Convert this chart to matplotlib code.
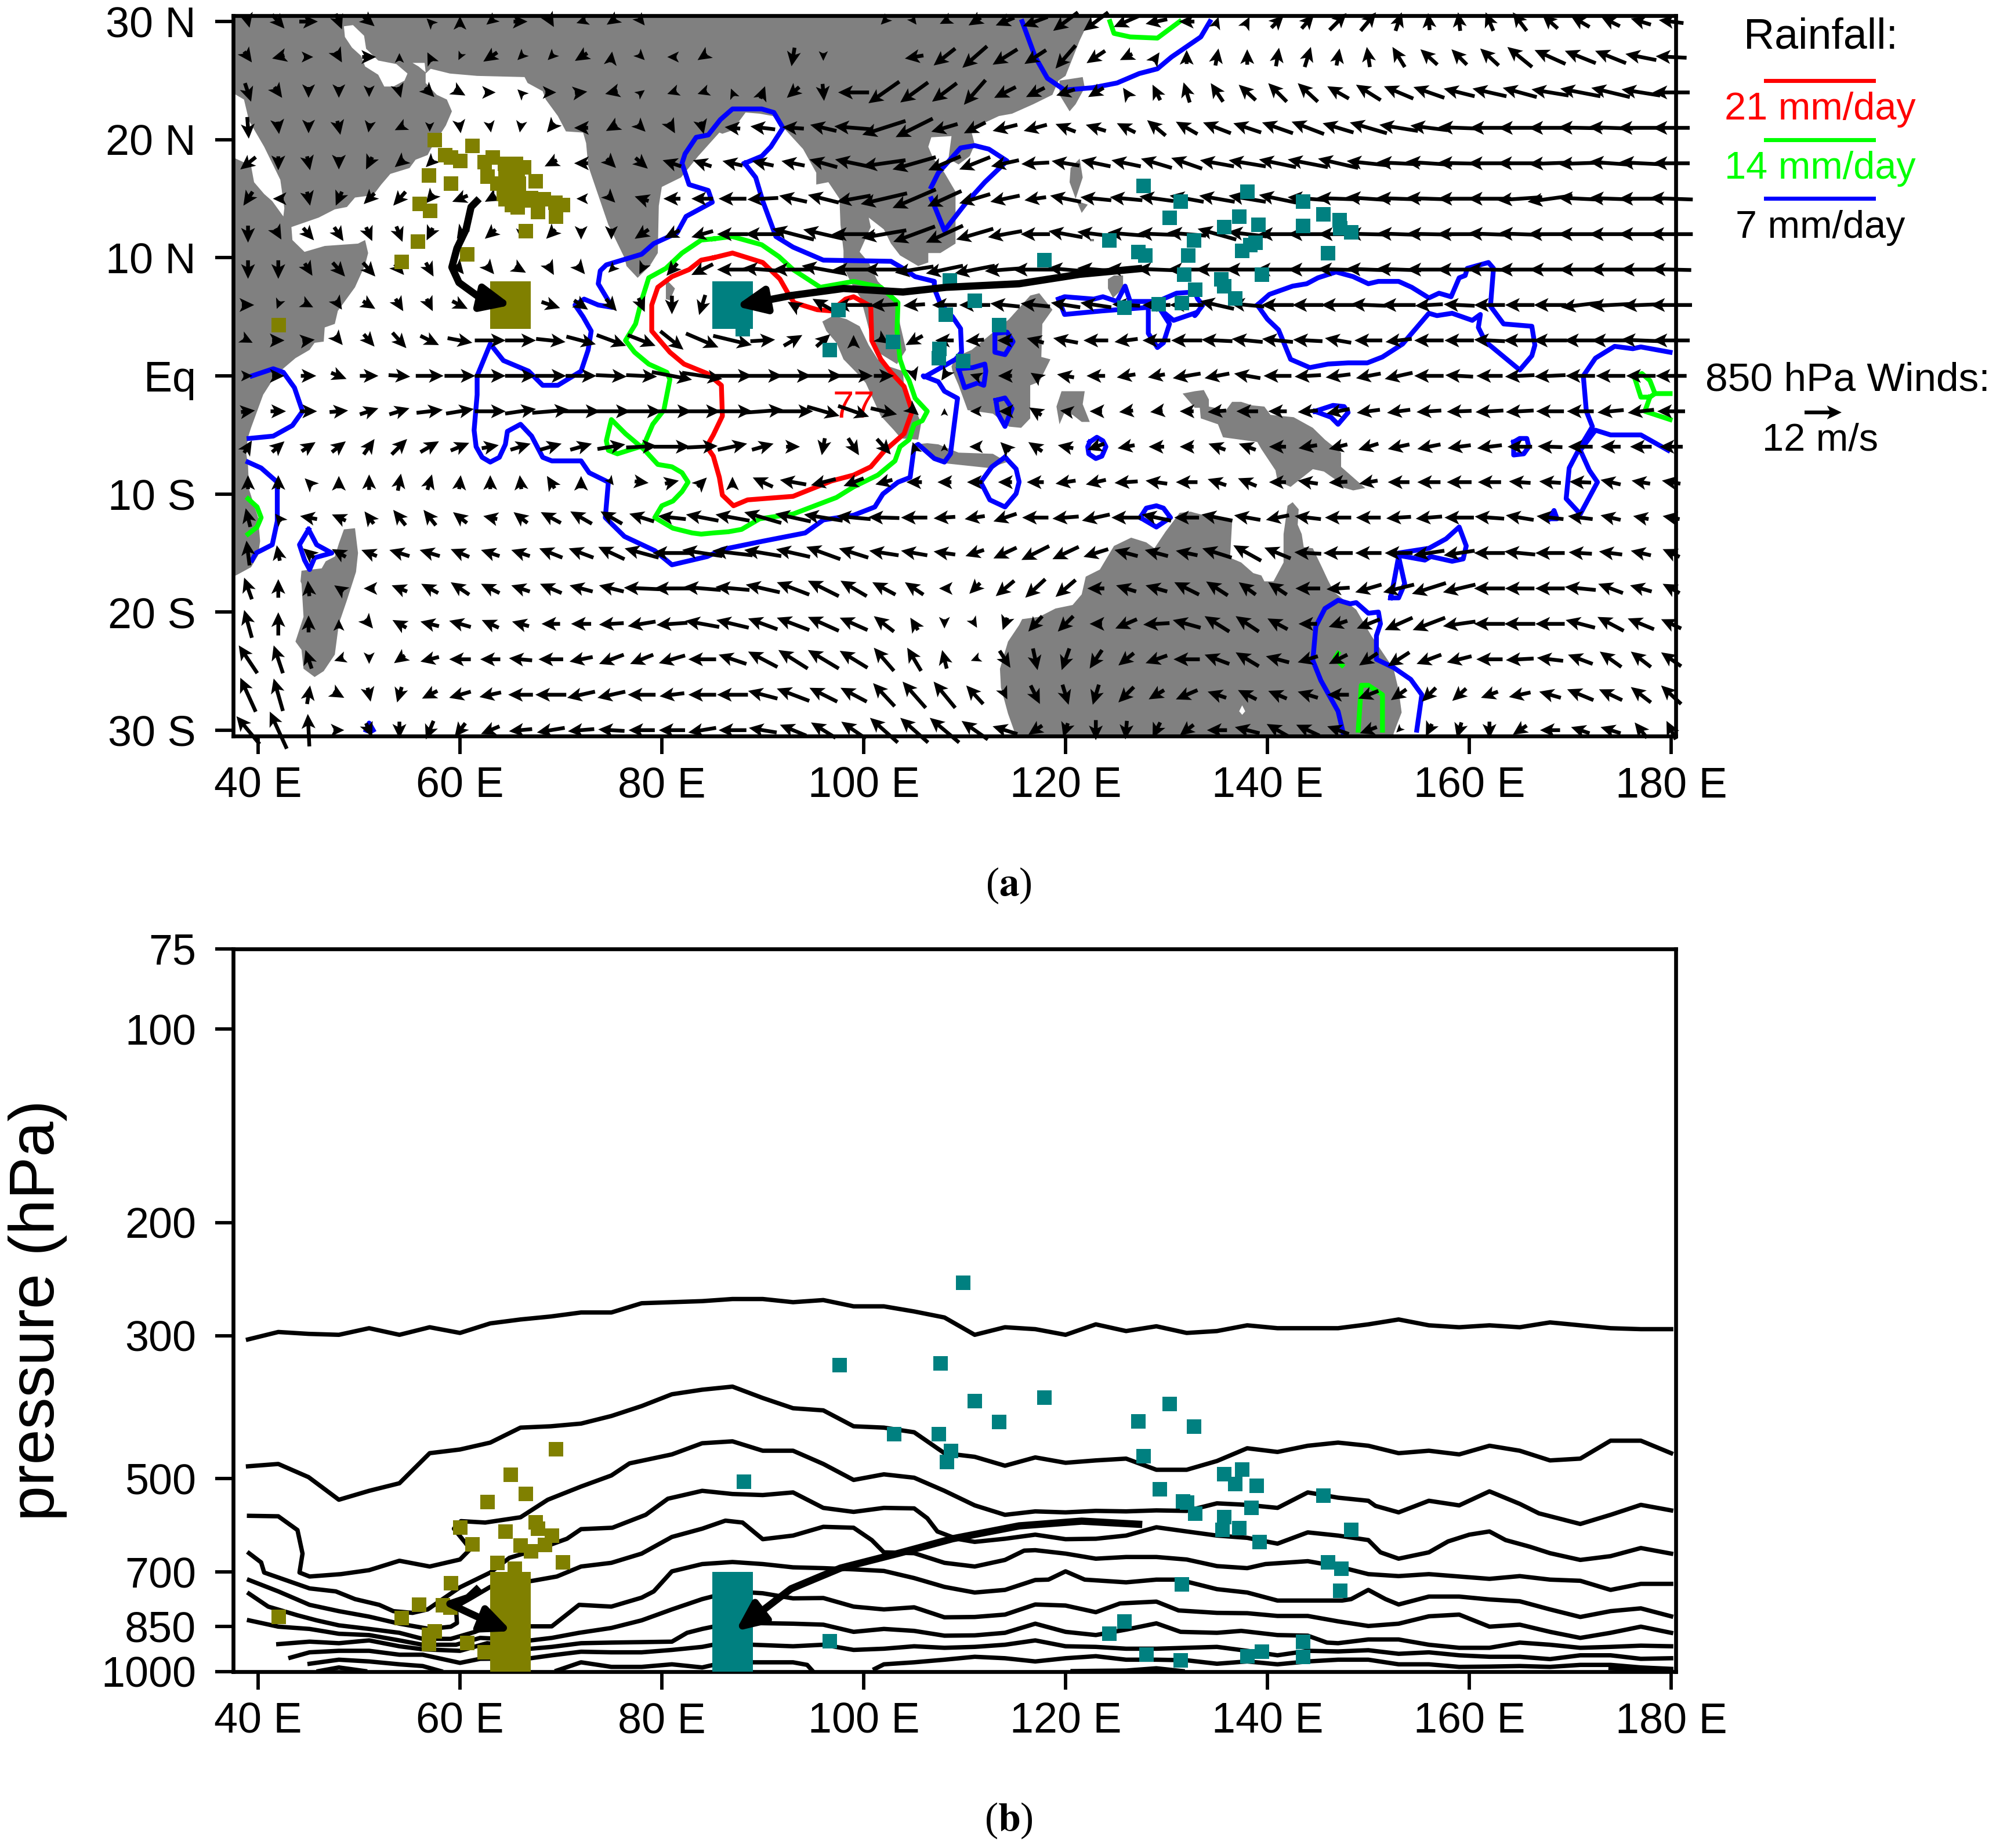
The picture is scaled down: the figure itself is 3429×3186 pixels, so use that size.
import numpy as np
import matplotlib
matplotlib.use("Agg")
import matplotlib.pyplot as plt
from matplotlib.lines import Line2D

plt.rcParams["font.family"] = ["Liberation Sans", "DejaVu Sans"]
plt.rcParams["mathtext.fontset"] = "stix"

# wind grid, m/s
grid_lon = np.arange(39, 181, 3)
grid_lat = np.arange(30, -31, -3)

u_wind = [
[1,4,6,2,3.5,0,-2,0,-2.5,4.5,2,-3,-3,2,0,0, 0,0,0,0,0,-2,1.5,-3,-4,-6,-8,-8,-8,-8,-7,-5, 1,1.5,4,4,5.5,5,2,-.5,-.7,-2.5,-4.5,-5,-6,-6,-6.5,-8],
[2.5,-4,3,2,4.5,0,-1.5,-1,-4.5,-2,-2,-4,.5,2,-3,-3, 0,0,-1,0,0,0,-6,-7,-8,-8,-7,-6.5,-6,-4,2,0, 1,0,1,2,1,-1,-4,-5.5,-5,-6,-8,-10,-10,-10,-10,-10],
[2,2.5,0,0,0,1,3,3.5,3.5,-2,3.5,4,-4,2,-3,-3, -1,1.5,-4,.5,-10,-10,-9,-8,-7,-7,-6,-6,-5,-2,-2.5,-2, -4,-5.5,-6,-6.5,-7,-8,-9.5,-10,-10,-11,-11,-12,-13,-12.5,-12.5,-12],
[.5,.5,0,1,-.5,-3,0,.5,.5,-.5,-2.5,-4.5,-3.5,2.5,2,1, -5,-8,-7,-8.5,-12.5,-14,-12,-8.5,-7,-8,-7.5,-6.5,-6.5,-6,-6,-7, -9,-9,-10,-10.5,-10,-12,-12.5,-12,-13.5,-13,-14,-14,-14.5,-14.5,-15,-12],
[-5,0,1,0,-2,-3,-2.5,0,0,0,-4,-4.5,3,4,-6,-6, -6.5,-7,-7.5,-9,-12,-14,-14,-10.5,-10,-9,-9,-9,-9.5,-9.5,-10,-10, -11,-12,-12,-13,-13,-14,-14,-15,-14,-14,-14.5,-14,-14.5,-14,-14,-12],
[-3,-3.5,1,-2,-3.5,-4,-2.5,-5,-3.5,0,0,-3,2.5,-4.5,-5.5,-7, -9,-10,-9,-10,-11,-15,-14,-11,-10,-9.5,-7,-10,-10,-10.5,-11,-11, -11.5,-12,-12,-13,-14,-14.5,-14.5,-15,-14,-14,-14.5,-14.5,-14.5,-14,-14.5,-14],
[0,2,3.5,3,2,2,-2,-2,-3.5,0,-3,0,0,-4.5,-5,-7, -10,-11.5,-13.5,-13,-14,-14.5,-13.5,-12,-12,-11,-9.5,-11,-12,-12,-12,-12.5, -12.5,-12.5,-12.5,-13,-13,-14,-14,-14.5,-14.5,-14,-14,-14.5,-14.5,-14,-14.5,-14],
[0,0,2.5,4,4,3,2.5,2.5,2.5,3.5,2,2.5,-2,-1.5,-3.5,-7, -10,-13,-13,-14,-13.5,-13,-12.5,-12,-13,-13,-14.5,-11.5,-12,-12.5,-13,-12.5, -14,-14,-14,-13,-13.5,-14.5,-14.5,-14.5,-14.5,-14.5,-14,-13.5,-14,-13.5,-13.5,-13],
[4,-1,3,2,4,2.5,2,5,4,0,6,4.5,3.5,2,0,-2, 0,-5,-3.5,-7,-12,-9,-7,-8,-10,-9.5,-9.5,-9.5,-10,-9,-9,-11, -11,-11,-10.5,-10,-11,-11.5,-11,-9,-10,-10,-9.5,-10.5,-12.5,-13.5,-12,-13.5],
[3,4,4,2.5,3.5,4.5,6,8,10,10,9.5,9.5,9.5,9,7.5,10.5, 12.5,8,6,4.5,0,3,-5.5,-6,-6,-5,-5.5,-8,-8,-7.5,-9,-10, -10,-10,-10,-9.5,-8.5,-9,-8.5,-9.5,-9.5,-10,-10.5,-11,-10.5,-12.5,-13,-12],
[3,4,5,5,6,7,9,10,10,10,10,10,10,10,13,13, 13,13,12,12.5,12.5,6.5,1,-2,-3,-4.5,-3,-5.5,-6,-6,-5.5,-9, -8,-8.5,-9,-8.5,-8,-8,-9,-9.5,-9,-8.5,-9.5,-10,-9.5,-9.5,-9.5,-10],
[4.5,5,5.5,6,6,6.5,8.5,9,10,10,12,12.5,12.5,13,13,12, 13,13.5,13,10.5,10,8.5,3,0,-3,-4,-4,-3.5,-4,-4.5,-4,-4.5, -6,-7,-6,-6.5,-7.5,-7.5,-7.5,-8,-8,-9,-9,-9,-8.7,-8.5,-8.5,-9],
[2.5,4,4.5,4.5,3.5,5,6,6,5.5,6.5,7,7,9,10,12,10, 9.5,7,4.5,-1,3.5,4.5,-1,0,-3.5,-3,-4.5,-5,-5.5,-5.5,-5,-4.5, -5.5,-5.5,-5.5,-6,-6,-6.5,-7,-7.5,-7.5,-8,-8,-8,-8,-6.5,-7,-7.5],
[0,0,-2.5,0,0,1,1.5,.5,0,-.5,-2.5,0,1.5,4.5,4.5,3, 0,-6.5,-8.5,-8,-6.5,-5.5,-5,-4.5,-5,-4.5,-5.5,-6.5,-6.5,-7.5,-7,-7, -6,-6,-5.5,-6.5,-6,-6,-7,-7.5,-8,-7.5,-7,-7,-7,-6.5,-6,-6],
[-1.5,-2,-5.5,-4.5,-3,-4,-4,-4.5,-4.5,-4.5,-6.5,-7,-7,-8,-9,-10.5, -11,-12,-11.5,-12.5,-11,-10,-8.5,-7,-6.5,-7.5,-8.5,-8.5,-9,-9.5,-9.5,-8, -10,-8.5,-7.5,-8.5,-8.5,-8,-8,-8.5,-9.5,-9.5,-9,-8.7,-8,-6.5,-5,-5.5],
[-1,-1,-3.5,-4.5,-5,-6.5,-6.5,-6,-6,-6,-7.5,-8,-8.5,-11,-12.5,-13, -13,-12,-11,-11,-9.5,-9.5,-8.5,-7,-6,-7.5,-9,-8.5,-8,-7.5,-7.5,-7, -9.5,-9,-8.5,-8.7,-9.5,-8.5,-9,-10,-10,-10,-10,-9.5,-7.5,-7.5,-6.5,-5.5],
[-2.5,0,-.5,-3,-3.5,-5,-5.5,-6,-6,-6,-7,-7.5,-8,-11.5,-11.5,-12, -11,-11,-10.5,-10,-8.5,-7.5,-6,-3.5,-3.5,-6,-6.5,-6.5,-5.5,-6.5,-7,-8, -7,-5.5,-6,-8,-7.5,-8.5,-10,-11,-10.5,-10,-9.5,-9.5,-10,-8,-7,-5.5],
[-2.5,0,0,0,2.5,-4.5,-6,-7,-5.5,-5.5,-6,-6.5,-8,-9,-10,-11, -10.5,-9.5,-10.5,-10,-9,-6.5,-2.5,0,1.5,-1.5,-4.5,-5,-4,-7,-8.5,-9, -8,-7.5,-6.5,-6,-6,-7.5,-9,-10.5,-10.5,-10,-10,-9.5,-9.5,-8.5,-8.5,-6.5],
[-6,-3,-2,-3,0,-3.5,-6,-7,-6.5,-7.5,-8,-7.5,-8,-7.5,-8.5,-9, -9,-9.5,-9.5,-10,-9,-6.5,-4.5,-1.5,-2.5,3.5,1.5,-2.5,-4,-5,-7,-8.5, -8,-7.5,-7.5,-6.5,-6,-6,-7,-8,-8,-8.5,-9,-8.5,-8,-7,-6.5,-6.5],
[-5,-3,1,3.5,1,-1.5,-5,-7,-7,-8,-10,-9,-9,-9,-8,-9, -10,-9.5,-10.5,-9,-8.5,-7,-7.5,-7,-5.5,1.5,3,2,-2,-5,-5,-7, -6,-6,-6,-6.5,-7,-6.5,-5,-4.5,-4.5,-5.5,-7,-7,-8.5,-7.5,-6.5,-6.5],
[-7.5,-5.5,-.5,3.5,2,0,-2.5,-3.5,-6,-7.5,-9,-8.5,-8.5,-8.5,-8.5,-9, -9,-9,-8.5,-8,-8,-9,-9,-9.5,-8.5,-8,-4.5,-1.5,0,-.5,-2.5,-4.5, -6.5,-8,-7,-7.5,-7,-5.5,-1.5,-2,-1.5,0,-4.5,-6.5,-6,-6.5,-4,-3],
]
v_wind = [
[-4,-4.5,0,-5,-3,0,2,3.5,-2,0,-3.5,-1,-2,-2.5,0,0, 0,0,0,0,0,-2,-2,-1.5,-2.5,-2.5,-3,-6,-6,-3.5,-1.5,0, 3,3,4,4.5,5.5,6,6,5.5,6,6,6,4.5,3.5,3,2,1],
[-3.5,-1,0,-3.5,0,2.5,3,-2,-3,-2,-2,-2.5,3.5,-2,0,-2, 0,0,-6,-2.5,0,0,-1,-5.5,-7,-5,-4.5,-7.5,-4,-2,3,4.5, 5.5,5,6,6.5,5.5,6.5,6.5,5,5,5.5,6.5,4.5,4,4,2,.5],
[-6,-3.5,-3.5,-3.5,-3,-3.5,-3,-2,0,2,0,.5,-1,1.5,-1,-1, 2.5,4,-3.5,-5.5,0,-7,-6.5,-6,-8,-3.5,-3,-2,-3,3,5,6.5, 6,5,6,6,4,5,4,3.5,2.5,2.5,3,2,2.5,3,2,0],
[-7,-4,-3.5,-4.5,-3,-1.5,-2.5,-3.5,-3,-3,-3,0,-2,-2.5,-3.5,-4, .5,1,.5,2,1,-4.5,-6,-2.5,-3.5,-2,-2,2.5,2,3,5,4, 3.5,3,3.5,4,3,3.5,2,1.5,.5,0,0,0,.3,.5,0,0],
[-4,-4.5,-4.5,-4,-4,-2.5,-2.5,0,0,0,-2,0,-3,-3.5,2,2, 1.5,1.5,1.5,2.5,2.5,-2,-4,-4.5,-4,-2,-.5,1.5,2,2,3,3.5, 2,2,2.5,2.5,3,1.5,.7,1,.3,0,0,-.5,-.5,1,.7,0],
[-4.5,0,-4.5,-4.5,-3.5,-4.5,-3,-2,-2,0,0,0,-2.5,1.5,0,0, 0,-.5,2,2.5,-2,-3.5,-6,-5,-3,-2,-1,2,1,1,1.5,2, 2,2,2.5,1,.5,1,.5,.5,0,0,-1,-2,.7,.5,0,.5],
[-5.5,-3.5,-4,-4.5,-4.5,-5,-4,-3,-3,-2.5,-3,-3.5,-3.5,-3,-2.5,-2, 0,0,3.5,3,0,-2.5,-5,-5.5,-3.5,-2,0,2,1.5,1,.5,1, 3.5,1.5,0,0,0,.3,.5,.3,0,.5,.5,0,0,0,0,0],
[-6,-6,-4,-4.5,-4.5,-3.5,-4.5,-3,-3,-2,-3.5,-3,-2,-3,-4,-3.5, 0,1,0,2.5,0,0,-2,-2.5,-2.5,-1,0,1,1,.5,.5,0, 0,0,0,0,.3,.5,.5,0,0,.3,0,0,0,0,0,.3],
[0,-2.5,-1.5,-3,-2.5,-4,-4,-2.5,-1,0,-2,-3,-4,-4.5,-6,-6.5, 0,0,2,4,0,-.5,-.5,0,0,1,1,1.5,1.5,.5,0,0, 2.5,1,0,0,0,.5,0,-.5,.5,0,0,0,-1.5,-.7,-.5,0],
[-1.5,0,.5,-3,-4,-5,-3,-1.5,0,0,-1,-2.5,-3.5,-3.5,-6,-4.5, -3,.5,3.5,4,3.5,-2,-3,0,-.5,0,1.5,1.5,0,-1,0,0, .5,1,1,.5,1.5,0,-1,0,0,.5,0,0,0,0,.5,0],
[0,0,0,-2,0,-.5,0,0,0,0,0,0,-.5,-.5,-2.5,-2, 0,0,0,0,0,0,-3.5,-3,1,0,2,1,0,-1,-1,-1.5, -1.5,1.5,0,-.5,-1,-1.5,-2,0,.5,0,-.5,-.5,0,0,0,0],
[.5,0,0,.5,2,2,1,1.5,0,1.5,1,0,0,0,0,0, 0,1,0,-3,-3.5,-2,-2.5,2,0,0,2.5,.5,0,-.5,-.5,0, -.5,0,0,-.5,-1.5,-1,-1,-.5,-.3,-.5,-.5,0,0,-.8,-1,0],
[4,3.5,3,3.5,5,5,3.5,2.5,1,2,2,2,1.5,.5,0,.5, 2,2,0,-5.5,-5.5,-5,3,2,0,3,3,1,-2,-1,0,0, 2,2,0,-1,-1.5,-2,-1.5,-1.5,-1,-1,0,.3,0,0,0,0],
[4.5,4.5,2.5,4,5,5.5,5,4.5,4.5,4.5,4,4,-2,-.5,1,3, 3.5,3,1.5,-2,-2.5,-1.5,0,0,0,0,0,-1,-1.5,-.5,1,0, 2,2.5,0,1,-.3,-1,0,0,0,0,.5,.5,.3,1.5,1,1],
[6,2.5,1,2,4,5,5,3.5,1,3.5,3.5,4,4,2.5,1,2, 2,3.5,2.5,2,1,.3,0,-.5,-1,-2.5,0,-.7,-2,0,2,0, 2,1.5,-1.5,1,0,0,-.5,-.7,0,.7,1.5,1,1,1.5,1,1],
[8,5,3,2.5,2,2,2,2.5,2,2,3,3,4,3,0,2, 1.5,2,2.5,4,3,1.5,1.5,1,-2,-3.5,-4.5,-4,-2.5,2,2,1.5, 3,5,3.5,.5,0,0,0,-1.5,-1.5,0,1,0,.5,1,1.5,2.5],
[7,6,5,2,0,2,3,4,3,2,3,2,2,.5,0,1, 1,2.5,4,5,5,4,4,0,-3.5,-5,-6,-5.5,0,2,2,4, 4.5,4,4,0,-.5,-2.5,-2.5,-3.5,-2.5,0,0,0,1,3,2,3],
[9,7.5,5.5,3,-3,2.5,1.5,2,2.5,1.5,0,0,-.5,-1.5,-.7,2, 2.5,3.5,4,4.5,4,5,4,-3,-2.5,-4,-5,-5,0,-3,-.5,2.5, 5,5,3.5,0,-2,-3,-4,-4,-1.5,0,0,0,2.5,4.5,3.5,3],
[9,9,6,-1,-3,-2.5,-1.5,0,0,.7,0,-1.5,-3,-3,-2.5,0, 3,5,6,6,5.5,7.5,7.5,6,-1,-5.5,-7,-7,-6,-4,-2.5,0, 3,4.5,2,-2,-3,-4,-4.5,-3,-2,0,-.5,1,3,5,5,4.5],
[11,10.5,6,-2,-4.5,-5,-2.5,-2,-1.5,0,0,-2,-2,0,-1,0, 0,2.5,4,4.5,4.5,7.5,8.5,8.5,6,-3,-6,-6.5,-6.5,-5,-3,-3, 2,3,2.5,2,0,-2.5,-3.5,-4.5,-4,-2,-1.5,2,3.5,3.5,5,6],
[9,12,10.5,0,-4.5,-5.5,-6,-4.5,-2.5,-.7,-1.5,-.7,.5,0,0,-1.5, 0,1.5,3.5,5,5.5,8,8,8,6,2.5,-3,-4.5,-6.5,-6,-5,-3.5, 0,2,4,3.5,2.5,-2,-1.5,-4,-5,-5.5,-3,0,2,2,5,6],
]

# land outlines, lon/lat
land_main_lon = [37,37.8,39.3,40,40.2,40,39.1,39,38.8,39,39.3,40.5,41.7,42.6,43.7,45.1,45.6,46.5,46.6,47.6,47.9,49.6,50.6,50.9,50.6,49.9,46.6,44.6,43.4,43.3,46,47.6,48.8,49.6,51.4,52.2,53.1,55,55.6,56.8,57.1,58.6,59.2,58.7,57.7,56.6,56.6,57.1,59,61.7,66.4,66.7,68.2,68.5,69.7,70.5,72.2,72.5,72.7,73.3,74.7,76.3,76.5,77.6,78.8,79.6,79.7,80,81.9,83.6,85.7,86,87,88.3,89.7,91,92.5,94,95.3,95.3,96.5,97.6,97.7,98,98,98.8,99.7,100.2,100.8,101.4,103.3,104.2,103.6,103.3,101.4,100.5,99.6,100.7,100.5,102,102.7,103.6,105.4,106.4,106.4,107.6,109.1,109.1,109.1,108,106.9,106.4,106.7,108.7,108.4,109.4,110.5,111,110.7,111.9,113.4,114.7,116.8,118.7,119.3,120,121.4,122.4,122.6,37]
land_main_lat = [-17,-16.9,-16.2,-15.2,-14,-12,-9.6,-7.6,-6.4,-5.2,-4.4,-1.6,0,.7,1.5,2.2,2.8,2.9,4.1,4.4,5.5,7.5,9.4,10.4,11.5,11.2,11,10.5,11.5,12.6,13.4,14.1,14.3,15.1,15.3,16.2,17.1,17.6,18.3,18.7,19.2,21.2,22.4,23.4,23.8,24.8,25.6,26,25.6,25.4,25.3,24.8,24.1,23.4,22,20.7,20.6,19.7,17.8,16.3,12.8,10,9.3,8.3,9.3,10.4,14.4,16,16.8,18.6,20.6,20.5,20.8,22.3,22.2,22,20.6,19.2,17.2,16.2,16.4,15,12.8,10.6,9.2,7.8,6.6,5,3,2,1,2.2,4.4,6.4,8,9.6,10.5,12.6,13.4,12.4,11.2,10.2,9.3,9.6,10.4,10.4,11.2,13.6,15.6,17.2,18.4,19.4,20.2,20.3,18.4,17.9,18.6,19.6,20.6,21.4,22,22.2,23,23.8,25,25.4,28.4,30.2,31,31]
sri_lon = [80.4,81.3,80.8,80.4]
sri_lat = [8.2,7.4,6.4,6.5]
sumatra_lon = [95.9,97,98.3,99.6,100.5,101.4,102.5,103.9,104,104.8,105.7,105.4,103.7,103,101.7,100.2,99.6,98,97.3,96.3]
sumatra_lat = [4.6,5.1,4.8,4.2,2.6,1.4,.8,.4,-1,-2.2,-4,-5.4,-5.3,-4.6,-3.4,-.6,0,1.4,2.8,3.8]
borneo_lon = [116.5,117.4,118.7,117.7,117.6,118.5,117.4,116.5,116.5,115.6,114.4,112.8,110.3,109.4,108.8,108.7,109.1,110.7,112.7,114.4]
borneo_lat = [6.8,7,5.6,4.4,1.6,1.4,-.5,-.8,-3.6,-4.4,-4.3,-3.2,-2.9,-.8,.4,.8,1.6,2.2,3.6,4.8]
sulawesi_lon = [119.1,119.6,121.9,121.7,122.4,121.6,120.7,119.9,119.4]
sulawesi_lat = [-2.6,-1.3,-1.3,-2.4,-3.9,-3.9,-3.3,-3.1,-4.1]
taiwan_lon = [119.4,121.7,121.9,121,120.4,119.4]
taiwan_lat = [25,25.3,24.4,23,22.4,23.8]
luzon_lon = [120.5,121.4,121.7,121,120.4]
luzon_lat = [17.6,18.4,16.8,15,16.4]
mindoro_lon = [121.1,122.2,121.6]
mindoro_lat = [14.8,14.5,13.8]
mindanao_lon = [124.2,124.8,125.7,125.7,124.7,124.2]
mindanao_lat = [8.2,8.5,8.5,7.4,6.6,7.4]
panay_lon = [122.4,122.8,122.8,122.4]
panay_lat = [11.6,11.6,11.4,11.4]
guinea_lon = [131.6,132.8,133.7,134.2,134.2,135.9,136.5,137.4,138.5,139.7,140.3,142.6,144.5,145.7,147.3,147.3,148.5,149.7,148.5,147.3,147.1,145.6,144.5,142.3,141,140.8,139.4,139,135.6,135.1,133.4,133.3,132.8]
guinea_lat = [-1.5,-1.3,-1.2,-2,-2.6,-2.9,-2.2,-2.2,-2.5,-2.6,-3.3,-3.5,-4.4,-5.4,-6.5,-7.7,-8.6,-9.5,-9.7,-9.4,-9,-8.1,-7.9,-9.4,-8.9,-8,-6.2,-5.6,-5.2,-4.1,-3.6,-2.7,-2.7]
java_lon = [105.1,106.3,107.4,109.4,112.8,114.2,112.4,108,107.1,105.6]
java_lat = [-5.8,-5.7,-5.8,-6.5,-6.6,-7.3,-7.8,-7.4,-7,-5.9]
madagascar_lon = [48.5,49.6,49.9,49.7,48.8,48,47.6,46.5,45.6,44.5,44.3,43.7,44.5,44.3,44.2,44.3,46.3,46.7,47.6,48]
madagascar_lat = [-13,-12.9,-15,-16.6,-19,-21,-23.6,-25,-25.5,-24.8,-23.2,-22.5,-20.4,-17.6,-17.4,-16.5,-16.3,-15.7,-15.3,-14.2]
australia_lon = [115.3,114.3,113.6,113.5,114.3,115.4,115.7,117.4,119,120.7,121.6,122,123.4,124.8,126.5,128,128.8,129.9,131.3,132.4,132.8,136.5,136.3,137.4,138.6,139.4,139.7,140.6,141.6,141.6,142,142.5,143.1,143,143.4,143.6,144.5,145.4,146,146.6,148.8,150.3,152.5,153,153.3,152.8,152.5,152.5,115.3]
australia_lat = [-31,-28.6,-26.4,-24.8,-22.5,-21.1,-20.6,-20.4,-19.7,-19.4,-18.5,-17,-16.4,-14.4,-13.7,-14.1,-14.6,-13.2,-11.6,-11.5,-11.6,-12.4,-15.4,-15.8,-16.7,-16.9,-17.4,-17.4,-15.8,-13.4,-11,-10.7,-11.3,-12.6,-13.4,-14.5,-14.6,-16.2,-17.3,-18.3,-19.8,-22,-24.8,-26.6,-28.5,-29.6,-30.3,-31,-31]
land_shapes = [(land_main_lon, land_main_lat), (sri_lon, sri_lat), (sumatra_lon, sumatra_lat), (borneo_lon, borneo_lat),
               (sulawesi_lon, sulawesi_lat), (taiwan_lon, taiwan_lat), (luzon_lon, luzon_lat), (mindoro_lon, mindoro_lat),
               (mindanao_lon, mindanao_lat), (panay_lon, panay_lat), (guinea_lon, guinea_lat), (java_lon, java_lat),
               (madagascar_lon, madagascar_lat), (australia_lon, australia_lat)]

# seas cut out of the land
red_sea_lon = [37,38.6,39.1,40.6,42.2,42.6,42.5,41.4,40.6,39.6,39.3,37]
red_sea_lat = [24.2,23.4,21.6,19.4,16.6,14.2,13.5,14.8,15.4,16.4,17.8,18.7]
gulf_lon = [48.5,49.4,50.5,50.7,51.9,53.7,54.8,54.5,53.4,52.5,51.9,50.6,50.2,49.3,48.6]
gulf_lat = [29.6,29.7,28.8,27.7,26.7,26.4,25.6,25,24.5,24.5,25.5,26.2,27.1,27.8,28.7]
oman_lon = [55.3,56.5,56.6,55.9]
oman_lat = [26.5,26.5,25.7,26.2]
lake_lon = [137.5,137.8,137.5,137.2]
lake_lat = [-27.9,-28.4,-28.7,-28.4]
water_shapes = [(red_sea_lon, red_sea_lat), (gulf_lon, gulf_lat), (oman_lon, oman_lat), (lake_lon, lake_lat)]

# rainfall contours
blue_main_lon = [88.2,89.9,90.8,92,91.1,89.9,87,85.8,84.6,83.4,82.3,82,82.7,84.6,85,82.4,81.5,79.2,78,74.5,73.9,73.7,75.1,73.7,72.3,71.4,72.2,73,72.7,72,69.7,68.2,66.8,64.3,63,61.7,61.7,61.4,61.6,62.2,63,63.9,64.5,64.7,66,67.1,68.2,69.1,72,72.8,74.7,74.4,76.3,79.3,81,84.5,86,90,94.2,96,99,101.1,101.9,103.4,104.6,105,105.4,107,108,108.6,109.3,108,107.4,105.9,106,109.1,109.7,109.6,108.8,107.6,107,107,105.1,103.9,102.7,96,93,91.3,90,89.3,88.2]
blue_main_lat = [18,18.6,19.4,21,22.3,22.6,22.6,21.7,20.4,20.2,18.8,18,16.2,15.7,14.7,13.5,12.1,11.2,10.3,9.4,8.9,7.8,5.8,6,6.5,6,5,3.8,2.2,.4,-.8,-.8,.4,1.3,2.7,0,-1.6,-4.6,-6,-6.9,-7.3,-6.9,-5.8,-4.7,-4.1,-5.1,-6.9,-7.2,-7.2,-8.2,-9,-12,-13.6,-14.8,-16,-15.3,-14.7,-14,-13.3,-12.2,-11.8,-11.1,-10,-9,-8.6,-6,-5.8,-7,-7.3,-6.6,-1.9,-1.3,-.5,0,-.1,1.4,2,4,5,6.1,7.4,8,8.4,9.1,9.7,9.8,10.9,11.8,14.8,16.8,18]
blue_myanmar_lon = [106.7,107.4,109.6,111,112.4,114.2,112,110,108,107.1,106.7]
blue_myanmar_lat = [16,17.2,19.3,19.5,19.2,18.2,16.4,14.5,12.3,14.2,15]
blue_china_lon = [115.7,117,118.2,119.9,122.7,125.1,127.3,129.1,130.5,133.4,134.3]
blue_china_lat = [30,27,25.2,24.2,24.4,24.8,25.6,26,27,28.7,30]
blue_africa1_lon = [39.4,41.5,42.5,43.6,44.4,43.4,41.5,39.1]
blue_africa1_lat = [0,.6,.3,-1,-3,-4.2,-5.1,-5.3]
blue_africa2_lon = [39,40.3,41.9,41.9,41.4,39.8,39.4]
blue_africa2_lat = [-7.3,-7.8,-9,-12.3,-14.3,-15,-15.6]
blue_star_lon = [45,44.1,44.6,45.1,45.6,47.3,45.8,45]
blue_star_lat = [-13,-14.3,-15.6,-16.4,-15.4,-15,-14.3,-13]
blue_tiny_lon = [50.7,51,51.4]
blue_tiny_lat = [-30,-29.4,-30]
blue_phil_lon = [119.3,119.9,122.8,123.7,125.1,125.9,126.4,129.1,131,132.8,133.1,133.6,132.8,133.1,130.7,129.4,130.3,129.7,129.1,128.2,128.2,123.6,119.9,119.3]
blue_phil_lat = [6.5,6.7,6.5,6.7,6.3,7.6,6.3,6.3,7,7.1,6.5,6,5.1,5.4,4.7,5.6,4.4,2.8,2.4,3.6,5.8,5.5,5.2,6.5]
blue_cel_lon = [113,114.2,114.8,114,113,113]
blue_cel_lat = [3.6,3.7,2.9,1.8,2,3.6]
blue_bor_lon = [109.4,110.8,112,112.1,111.9,111.3,110,109.4]
blue_bor_lat = [.6,.7,1,.4,-.8,-.6,-1,.6]
blue_bor2_lon = [113.1,114,114.7,114,113.3,113.1]
blue_bor2_lat = [-2.07,-1.87,-2.77,-4.28,-3.2,-2.07]
blue_lens_lon = [114,115.1,115.4,115.1,114,112.5,111.6,112.7,114]
blue_lens_lat = [-6.88,-7.88,-8.98,-9.98,-11.1,-10.5,-9,-7.7,-6.88]
blue_ring1_lon = [122.4,123.1,123.7,124,123.6,123,122.3,122.2,122.4]
blue_ring1_lat = [-5.6,-5.2,-5.5,-6,-6.8,-7,-6.6,-6,-5.6]
blue_ring2_lon = [127.4,128,129,129.7,130.4,129,127.4]
blue_ring2_lat = [-12,-11.2,-11,-11.2,-12,-12.8,-12]
blue_ring3_lon = [144.7,146.5,147.6,148,147,146.3,144.7]
blue_ring3_lat = [-3,-2.5,-2.6,-3.1,-4.1,-3.5,-3]
blue_ring4_lon = [164.4,165,165.7,165.9,165.4,164.4,164.4]
blue_ring4_lat = [-5.6,-5.3,-5.3,-6,-6.6,-6.7,-5.6]
blue_pac_lon = [139,140.2,142.5,143.9,145,146.8,148.5,150,151,153,154.3,156,157,158.2,159,159.6,159.8,161.9,162.4,162.1,163.4,166.2,166.5,166.2,165,161.6,160.9,161.1,160.3,158.3,156.8,156,153.4,151.4,149.9,148,146,144.2,142.3,141.1,140,139]
blue_pac_lat = [6,6.9,7.6,7.8,8.3,8.8,8.4,7.8,8,8,7.5,6.6,7,6.7,8.3,8.5,9.1,9.6,9.1,5.9,4.4,4.2,2.6,1.7,.5,2.9,4.1,5.2,4.7,5.3,5.1,5.3,2.7,1.6,1.1,1.1,1,.7,1.4,3.9,4.8,6]
blue_dateline_lon = [179.9,177,176.2,174.4,172.5,171.3,171.6,172.2,171,169.9,169.6,171,172.7,171.9,171,172.5,174,177,179.7]
blue_dateline_lat = [2,2.45,2.3,2.5,1.5,0,-3,-4.3,-6,-7.8,-10.4,-11.7,-9,-8,-6.3,-4.6,-5,-5,-6.3]
blue_sol_lon = [152.2,153,153.6,153,152.5,152.2]
blue_sol_lat = [-18.8,-18.8,-17.6,-15.3,-17.6,-18.8]
blue_coral_lon = [153,155.6,156.2,158.3,159.4,159.7,159,157.7,156,153,153]
blue_coral_lat = [-15.2,-15.6,-15.3,-15.7,-15.5,-14.4,-12.8,-13.8,-14.6,-15,-15.2]
blue_aus_lon = [147.5,147,145.3,144.5,144.8,145.7,147,148.2,148.8,150,151,151.2,150.8,150.8,152.5,154.2,155.3,154.8]
blue_aus_lat = [-30.2,-28.4,-25.8,-24.1,-21.2,-19.7,-19,-19.3,-19.2,-20.1,-20,-21,-22,-24,-24.7,-25.7,-27,-30]
blue_small_lon = [167.9,168.4,168.7,167.9]
blue_small_lat = [-12.1,-11.4,-12.1,-12.1]
blue_shapes = [(blue_main_lon, blue_main_lat), (blue_myanmar_lon, blue_myanmar_lat), (blue_china_lon, blue_china_lat),
               (blue_africa1_lon, blue_africa1_lat), (blue_africa2_lon, blue_africa2_lat), (blue_star_lon, blue_star_lat),
               (blue_tiny_lon, blue_tiny_lat), (blue_phil_lon, blue_phil_lat), (blue_cel_lon, blue_cel_lat),
               (blue_bor_lon, blue_bor_lat), (blue_bor2_lon, blue_bor2_lat), (blue_lens_lon, blue_lens_lat),
               (blue_ring1_lon, blue_ring1_lat), (blue_ring2_lon, blue_ring2_lat), (blue_ring3_lon, blue_ring3_lat),
               (blue_ring4_lon, blue_ring4_lat), (blue_pac_lon, blue_pac_lat), (blue_dateline_lon, blue_dateline_lat),
               (blue_sol_lon, blue_sol_lat), (blue_coral_lon, blue_coral_lat), (blue_aus_lon, blue_aus_lat),
               (blue_small_lon, blue_small_lat)]

green_main_lon = [85.1,86.96,89.9,91.6,93,95.7,99,101.7,103.4,103.3,103.6,104,104.5,105.1,106.3,105.8,105,104.5,103.6,103.1,101.4,99,97.3,93,89.7,87.9,86.6,85.1,83.9,83,81.1,79.3,80,81.1,82,82.6,82,81,79.6,78.2,76.4,75,74.5,74.7,75.6,78.2,79.1,80.2,80.8,80.5,78.7,77.3,76.4,77.4,78,78.7,80.4,82,83.9,85.1]
green_main_lat = [11.6,11.8,11.1,10.1,9,7.5,8,7.5,6.2,3.8,1.4,.4,-.4,-1.9,-3,-3.8,-4.1,-5.4,-6,-7.2,-8.4,-9.4,-10.3,-11.7,-12.1,-13,-13.2,-13.3,-13.4,-13.3,-12.9,-12,-11,-10.6,-9.8,-9,-8.2,-7.7,-7.5,-6.2,-4.9,-3.7,-5.5,-6.3,-6.6,-5.9,-4.1,-2.9,-.3,.3,1,2,3,4.4,6.4,8.3,9.1,10.4,11.5,11.6]
green_africa_lon = [39,39.9,40.3,39.9,39]
green_africa_lat = [-10.4,-11.1,-12,-12.8,-13.4]
green_china_lon = [124.4,124.8,126.4,129.1,131.3]
green_china_lat = [30,29,28.7,28.6,30]
green_date1_lon = [176.4,177,177.9,178.4,179.9]
green_date1_lat = [-.2,-1.8,-1.8,-1.5,-1.5]
green_date2_lon = [178.4,177.9,177.1,176.4]
green_date2_lat = [-1.5,-.4,.2,-.2]
green_date3_lon = [177.9,177.4,179.9]
green_date3_lat = [-1.8,-3,-3.7]
green_aus_lon = [149,149.3,150,151.4,151.4]
green_aus_lat = [-30,-26.2,-26.2,-27,-30]
green_tiny_lon = [147,146.7,147.4]
green_tiny_lat = [-23.5,-23.9,-24.5]
green_shapes = [(green_main_lon, green_main_lat), (green_africa_lon, green_africa_lat), (green_china_lon, green_china_lat),
                (green_date1_lon, green_date1_lat), (green_date2_lon, green_date2_lat), (green_date3_lon, green_date3_lat),
                (green_aus_lon, green_aus_lat), (green_tiny_lon, green_tiny_lat)]

red_main_lon = [85.1,87,90,91.7,92.5,93.1,95.4,96.8,98.2,99,100.7,100.8,101.7,102.7,104,104.8,104,102,100.7,99,96.8,93,88.5,87.1,86,85.7,85.1,84.7,84.7,85.1,86,85.9,84.5,82.2,80.8,79,79,79.6,81,82.7,83.9,85.1]
red_main_lat = [10,10.4,9.6,8.2,7,6.2,5.6,5.5,6.5,6.7,5.9,3,1.4,.3,-.9,-3,-4.9,-6.4,-7.7,-8.4,-8.9,-10.2,-10.5,-11,-10.1,-8.6,-6.8,-6.3,-5.6,-5,-3.4,-.8,.2,1,2,3.8,6,7.5,8.4,9,9.8,10]

# marks, panel a
olive_lon = [57.5,61.2,58.5,59.1,60,62.4,63.2,64.4,65.5,66.3,56.9,59.1,62.7,63.7,64.5,65.7,67.5,64.3,65.7,67,68.3,69.4,70.2,65.1,65.7,67.7,69.5,56,57,66.5,55.8,60.7,54.2,42,65.2,64.9,65.8,64.5,66.4]
olive_lat = [20,19.5,18.7,18.5,18.2,18.1,18.5,18,18,17.7,17,16.3,16.9,16.3,17.4,17,16.5,15.4,15.6,15.1,15,14.7,14.5,14.5,14.3,13.9,13.5,14.6,14,12.3,11.4,10.3,9.7,4.3,16.8,16.3,16.3,15,14.9]
teal_lon = [127.7,131.4,130.3,124.3,117.9,132.7,127.2,127.9,132.1,131.7,108.5,111,132.8,131.5,129.2,125.8,97.5,108.1,113.4,102.9,96.6,107.5,107.4,109.8,88,138,143.5,145.5,137.2,135.7,139.1,143.5,147.1,147.2,148.3,138.8,138.3,137.5,146,139.4,135.4,135.7,136.8]
teal_lat = [16.1,14.8,13.4,11.5,9.8,11.5,10.5,10.2,10.2,8.6,8.1,6.4,7.3,6.2,6.1,5.8,5.6,5.2,4.3,2.9,2.2,2.3,1.5,1.3,4,15.6,14.8,13.7,13.5,12.6,12.8,12.7,13.2,12.5,12.2,11.3,11.1,10.6,10.4,8.6,8.2,7.6,6.6]
olive_box_lon = [63, 67]
olive_box_lat = [4, 8]
teal_box_lon = [85, 89]
teal_box_lat = [4, 8]
olive_path_lon = [61.9,61.1,60.6,59.7,59.2,59.9,62,65.1]
olive_path_lat = [15,14.3,12.4,10.8,9.2,7.9,6.6,6]
teal_path_lon = [127.6,121.4,115.4,108.2,103.9,98,92.8,87.3]
teal_path_lat = [9.1,8.6,7.8,7.5,7.1,7.4,6.8,5.9]

# panel b
olive_lon_b = [69.5,65,66.5,62.7,60,67.5,67.7,64.5,69.1,61.2,66,67,68.4,63.7,65.4,70.2,59.1,55.9,58.3,59,54.2,42,57.5,56.9,56.9,60.7,62.4]
olive_p = [450,493,528,544,596,585,598,605,614,633,636,649,634,676,690,675,728,786,787,794,824,820,864,905,876,901,932]
teal_lon_b = [109.8,97.6,107.6,111,103,107.4,108.6,108.2,88.1,96.6,117.9,113.4,127.2,130.3,132.7,127.7,129.3,135.7,137.5,136.8,138.9,132,131.6,132.8,138.4,145.5,135.7,135.5,137.2,139.2,148.3,146,147.3,147.2,131.5,125.8,124.3,128,131.4,138,139.4,143.5,143.5]
teal_p = [248,333,331,379,426,426,453,471,506,895,374,408,407,383,415,461,519,492,484,510,513,545,543,567,555,531,574,601,597,628,601,675,691,748,731,834,872,939,959,946,930,897,948]
box_p = [700, 1000]
olive_path_lon_b = [61.9,60.8,59,60.6,63,65.1]
olive_path_p = [739,767,784,806,839,865]
teal_path_lon_b = [127.6,121.6,115.4,108.8,103.5,97.7,92.8,87.3]
teal_path_p = [590,583,593,621,654,690,743,865]

level1_lon = list(grid_lon)
level1_p = [304,296,298,299,292,299,291,297,287,283,280,276,276,267,266,265,263,263,266,264,270,270,275,281,299,291,293,299,288,295,290,297,295,289,292,292,292,288,283,289,291,289,291,286,289,292,293,293]
level2_lon = list(grid_lon)
level2_p = [479,475,498,540,523,509,457,451,440,417,415,411,400,386,370,364,360,375,389,392,415,417,424,457,463,478,464,473,469,466,485,485,470,449,455,445,440,445,457,453,459,445,453,469,466,437,437,457]
level3_lon = [39.1,42,43.9,44.4,44.1,45.1,48.2,51,54,57,60,61,60.6,59.4,60.1,62.5,66,68.7,72,75,76.8,81,84,87,90,93,96,99,102,105,108,111,114,117,120,123,126,129,132,135,138,141,144,147,150,150.7,153,156,159,162,165,166.9,171,174,177,180]
level3_p = [572,573,602,655,701,711,705,695,672,686,669,645,632,599,583,586,575,540,515,495,474,459,441,438,453,453,475,503,493,499,523,551,570,563,565,562,563,561,562,547,550,556,526,536,542,552,565,542,551,524,548,567,589,570,550,561]
level4_lon = [39.1,40.3,40.6,45.1,47.7,49.6,52,53.4,55.3,56.8,60,63,64.9,67.7,70.6,72,75.1,78.4,80.6,84,87,90,93,96,99,102,105,106.3,107.3,109.2,111,114,117,120,123,126,129,132,135,138,141,144,147,150,151.2,153,156,157.9,160,162,163.6,166,168,171,174,177,180]
level4_p = [654,676,701,742,750,771,787,805,810,800,739,701,665,645,621,600,597,570,538,523,529,531,526,556,564,556,557,577,605,621,628,621,612,622,621,614,596,605,614,619,632,607,614,624,652,667,652,627,612,605,624,639,654,670,661,642,655]
level5_lon = [39.1,42,45.1,48,51,54,57,59.1,59.7,59.6,61,63,67.2,69.6,72,75,78,81,84,86.3,88,90,93,96,99,100.8,102,105,108,111,114,115.9,117,120,123,126,129,132,135,138,139.8,144,147,150,153,156,159,162,165,168,171,174,177,180]
level5_p = [720,750,787,805,821,842,858,851,840,792,770,738,722,711,686,677,655,617,599,582,586,622,614,595,597,624,652,654,677,686,670,648,647,655,667,663,663,669,685,690,680,673,686,705,710,705,711,717,710,719,722,746,730,730]
level6_lon = [39.1,41,43.9,45.8,48,51,54,56.3,59.1,61.5,63,67,69.1,71.8,75,78,79.2,81,84,87,90,93,96,99,102,105,108,111,114,117,118.3,120,121.9,126,129,131.2,135,138,141,147.4,148.3,150,151.7,153,156,159,162,165,168,171,174,177,180]
level6_p = [756,792,817,832,847,858,870,889,889,867,847,850,850,787,792,767,750,698,680,675,680,688,690,693,697,715,738,753,746,720,719,698,719,726,719,719,744,753,775,775,771,746,771,786,764,764,772,777,800,822,805,797,820]
level7_lon = [39.1,42,45.1,48,51,54,56.3,59.6,62,67,69.1,71.8,75,78,81,84,87,90,93,96,99,102,105,108,111,114,117,120,123,125.4,129,131.2,135,138,141,144,147,150,153,156,159,162,165,168,171,174,177,180]
level7_p = [832,851,858,873,877,894,908,908,886,894,886,870,855,832,800,771,750,755,769,768,792,800,794,823,822,815,786,789,808,783,778,803,810,811,819,819,835,849,842,820,815,851,845,867,886,870,851,870]
level8_lon = [42,45.1,48,51,54,56.3,60,62.7,67,69.1,72,75,81,82.5,84,85.1,89,93,96,99,102,105,108,111,114,117,120,123,126,129,131.4,135,137.4,141,144,145.9,147,150,153,156,159,162,165,168,171,174,177,180]
level8_p = [906,898,903,894,913,923,928,903,921,915,903,901,898,870,858,851,840,842,845,867,858,864,879,878,870,842,867,877,860,841,867,870,864,877,879,901,903,891,891,908,918,918,901,908,918,915,911,913]
level9_lon = [43.2,45.1,48,51,54,56.3,60,62,67,69.1,72,75,78,81,84,85.1,89,93,96,99,102,105,108,111,114,117,120,123,126,129,135,138,141,144,147,150,153,156,159,162,165,168,171,174,177,180]
level9_p = [951,933,928,928,941,941,969,955,953,943,931,933,933,925,915,908,908,913,908,925,921,913,918,915,908,894,913,915,921,921,915,928,943,928,930,926,938,933,943,948,948,956,943,943,955,953]
level10_lon = [45.1,48,51,54,56.3,58.1]
level10_p = [972,958,964,974,980,998]
level11_lon = [46,48,50.6]
level11_p = [998,985,998]
level12_lon = [69.6,72,75,78,81,84,85.1,89,93,94.4,94.9]
level12_p = [996,967,983,983,974,985,976,967,967,976,996]
level13_lon = [101.1,102,105,108,111,114,117,120,123,126,129,132,135,138,141,144,147,150,153,156,159,162,165,168,171,174,177,180]
level13_p = [990,974,967,958,948,953,964,953,946,958,958,960,972,964,974,964,958,958,974,974,983,982,980,983,976,976,985,990]
level14_lon = [120.7,123,126,129,131.6]
level14_p = [998,997,996,988,998]
level15_lon = [174,177,180]
level15_p = [987,993,998]
levels = [(level1_lon, level1_p), (level2_lon, level2_p), (level3_lon, level3_p), (level4_lon, level4_p),
          (level5_lon, level5_p), (level6_lon, level6_p), (level7_lon, level7_p), (level8_lon, level8_p),
          (level9_lon, level9_p), (level10_lon, level10_p), (level11_lon, level11_p), (level12_lon, level12_p),
          (level13_lon, level13_p), (level14_lon, level14_p), (level15_lon, level15_p)]

lon_ticks = [40, 60, 80, 100, 120, 140, 160, 180]
lon_labels = ["40 E", "60 E", "80 E", "100 E", "120 E", "140 E", "160 E", "180 E"]
lat_ticks = [30, 20, 10, 0, -10, -20, -30]
lat_labels = ["30 N", "20 N", "10 N", "Eq", "10 S", "20 S", "30 S"]
p_ticks = [75, 100, 200, 300, 500, 700, 850, 1000]
p_labels = ["75", "100", "200", "300", "500", "700", "850", "1000"]

OLIVE = "#808000"
TEAL = "#008080"
W, H = 3430, 3186


def fx(px):
    return px / W


def fy(py):
    return 1 - py / H


def style_axis(ax):
    for s in ax.spines.values():
        s.set_linewidth(4.8)
    ax.tick_params(axis="both", which="major", length=22, width=4.2, labelsize=53)
    ax.tick_params(axis="x", pad=15)
    ax.tick_params(axis="y", pad=24)
    ax.tick_params(which="minor", length=0)
    ax.set_xticks(lon_ticks)
    ax.set_xticklabels(lon_labels)
    ax.set_xlim(37.53, 180.46)


def thick_arrow(ax, xs, ys):
    ax.plot(xs[:-1], ys[:-1], color="k", lw=9, solid_capstyle="butt", zorder=5)
    ax.annotate("", xy=(xs[-1], ys[-1]), xytext=(xs[-2], ys[-2]), zorder=5,
                arrowprops=dict(arrowstyle="-|>,head_length=1.0,head_width=0.45", mutation_scale=30,
                                color="k", lw=9, shrinkA=0, shrinkB=0))


fig = plt.figure(figsize=(W / 100, H / 100), dpi=100)

# (a) map
ax1 = fig.add_axes([fx(402), fy(1269), (2889 - 402) / W, (1269 - 27) / H])
for xs, ys in land_shapes:
    ax1.fill(xs, ys, color="#808080", lw=0, zorder=1)
for xs, ys in water_shapes:
    ax1.fill(xs, ys, color="white", lw=0, zorder=1.1)
for xs, ys in blue_shapes:
    ax1.plot(xs, ys, color="#0000ff", lw=6, zorder=2)
for xs, ys in green_shapes:
    ax1.plot(xs, ys, color="#00ff00", lw=6, zorder=2.1)
ax1.plot(red_main_lon, red_main_lat, color="#ff0000", lw=6, zorder=2.2)
ax1.text(99, -2.7, "77", color="#ff0000", fontsize=47, ha="center", va="center", zorder=2.3)

lon2d, lat2d = np.meshgrid(grid_lon, grid_lat)
q = ax1.quiver(lon2d, lat2d, np.array(u_wind), np.array(v_wind), pivot="mid", angles="uv",
               units="dots", width=6.5, scale=1 / 5.33, scale_units="dots",
               headwidth=3.7, headlength=3.9, headaxislength=3.2, minshaft=0.8, minlength=0,
               color="k", clip_on=False, zorder=3)
ax1.fill_between(olive_box_lon, olive_box_lat[0], olive_box_lat[1], color=OLIVE, lw=0, zorder=4)
ax1.fill_between(teal_box_lon, teal_box_lat[0], teal_box_lat[1], color=TEAL, lw=0, zorder=4)
ax1.plot(olive_lon, olive_lat, "s", color=OLIVE, ms=18, mew=0, zorder=4)
ax1.plot(teal_lon, teal_lat, "s", color=TEAL, ms=18, mew=0, zorder=4)
thick_arrow(ax1, olive_path_lon, olive_path_lat)
thick_arrow(ax1, teal_path_lon, teal_path_lat)
style_axis(ax1)
ax1.set_ylim(-30.5, 30.5)
ax1.set_yticks(lat_ticks)
ax1.set_yticklabels(lat_labels)
ax1.quiverkey(q, fx(3143), fy(711), 12, "", coordinates="figure", labelpos="N")

# (b) section
ax2 = fig.add_axes([fx(402), fy(2882), (2889 - 402) / W, (2882 - 1636) / H])
for xs, ys in levels:
    ax2.plot(xs, ys, color="k", lw=5.4, zorder=2)
ax2.fill_between(olive_box_lon, box_p[0], box_p[1], color=OLIVE, lw=0, zorder=4)
ax2.fill_between(teal_box_lon, box_p[0], box_p[1], color=TEAL, lw=0, zorder=4)
ax2.plot(olive_lon_b, olive_p, "s", color=OLIVE, ms=18, mew=0, zorder=4)
ax2.plot(teal_lon_b, teal_p, "s", color=TEAL, ms=18, mew=0, zorder=4)
thick_arrow(ax2, olive_path_lon_b, olive_path_p)
thick_arrow(ax2, teal_path_lon_b, teal_path_p)
ax2.set_yscale("log")
style_axis(ax2)
ax2.set_ylim(1000, 75)
ax2.set_yticks(p_ticks)
ax2.set_yticklabels(p_labels)
ax2.minorticks_off()
ax2.set_ylabel("pressure (hPa)", fontsize=79, labelpad=42)

# right hand key
fig.text(fx(3139), fy(64), "Rainfall:", fontsize=53, ha="center", va="center")
for py, c in [(139, "#ff0000"), (241, "#00ff00"), (342, "#0000ff")]:
    fig.add_artist(Line2D([fx(3044), fx(3230)], [fy(py), fy(py)], color=c, lw=5))
fig.text(fx(3138), fy(189), "21 mm/day", fontsize=48, color="#ff0000", ha="center", va="center")
fig.text(fx(3138), fy(291), "14 mm/day", fontsize=48, color="#00ff00", ha="center", va="center")
fig.text(fx(3138), fy(393), "7 mm/day", fontsize=48, color="k", ha="center", va="center")
fig.text(fx(3185), fy(656), "850 hPa Winds:", fontsize=50, ha="center", va="center")
fig.text(fx(3138), fy(760), "12 m/s", fontsize=48, ha="center", va="center")

fig.text(fx(1739), fy(1527), r"($\mathbf{a}$)", fontsize=50, family="Liberation Serif", ha="center", va="center")
fig.text(fx(1739), fy(3139), r"($\mathbf{b}$)", fontsize=50, family="Liberation Serif", ha="center", va="center")

fig.savefig("out.png", dpi=100)
